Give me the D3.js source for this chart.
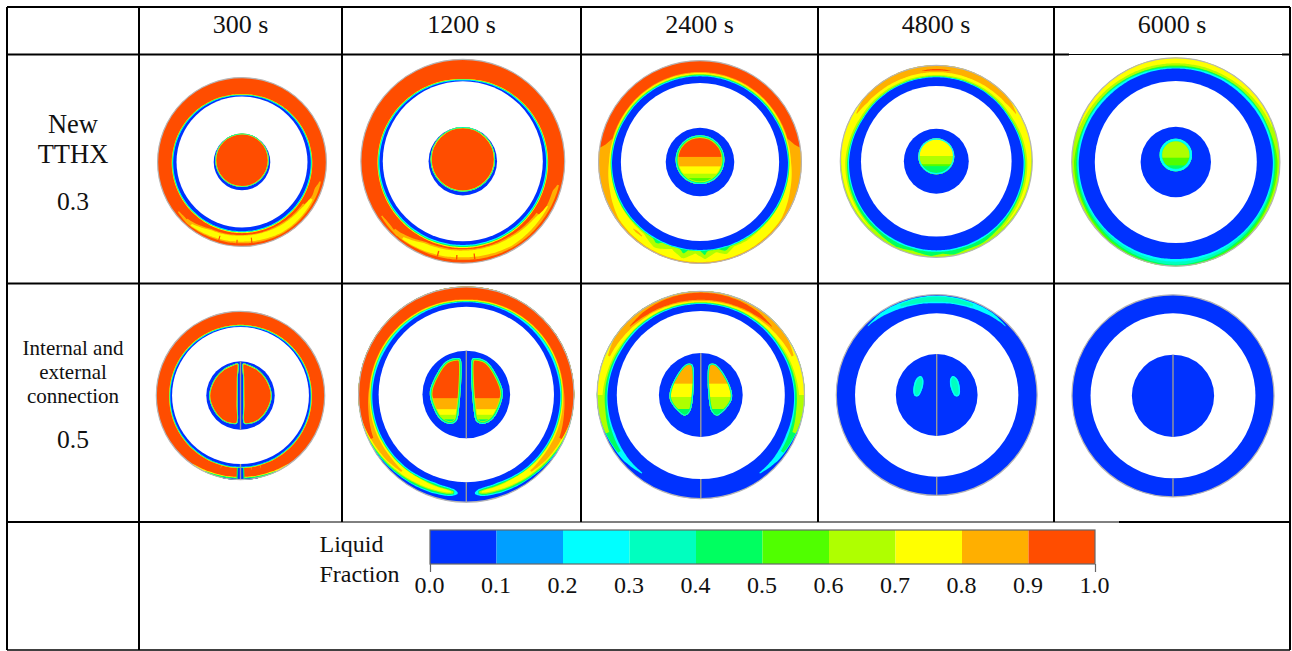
<!DOCTYPE html>
<html>
<head>
<meta charset="utf-8">
<script src="https://cdn.jsdelivr.net/npm/d3@7"></script>
<style>
  html, body { margin: 0; background: #fff; }
  text { font-family: "Liberation Serif", serif; fill: #111; }
</style>
</head>
<body>
<svg id="chart" width="1292" height="651"></svg>
<script>
// Table text
const times = ["300 s", "1200 s", "2400 s", "4800 s", "6000 s"];
const rowOneLabels = ["New", "TTHX"];
const rowOneValue = "0.3";
const rowTwoLabels = ["Internal and", "external", "connection"];
const rowTwoValue = "0.5";
const legendTitle = ["Liquid", "Fraction"];

// Legend
const lfBreaks = [0, 0.1, 0.2, 0.3, 0.4, 0.5, 0.6, 0.7, 0.8, 0.9, 1];
const lfColors = ["#0033ff", "#009fff", "#00ffff", "#00ffbf", "#00ff60", "#50ff00", "#afff00", "#ffff00", "#ffaf00", "#ff4d00"];

// Contours. Angle in degrees from the top, clockwise,
// radius as a fraction of the outer radius. [value, [[angle, r]...]] is a closed
// curve, [value, [[angle, rIn, rOut]...]] is a band. Lists that stop at 180 or
// start at 0 are mirrored. Painted in order.
const ring300 = [
  [0.85, [[104, 0.945, 0.96], [112, 0.9, 0.965], [125, 0.87, 0.965], [150, 0.86, 0.97], [180, 0.862, 0.96], [205, 0.87, 0.965], [222, 0.925, 0.975], [232, 0.945, 0.96]]],
  [0.75, [[118, 0.91, 0.945], [130, 0.885, 0.95], [150, 0.875, 0.955], [165, 0.87, 0.945], [180, 0.87, 0.94], [205, 0.885, 0.95], [219, 0.94, 0.965]]],
  [0.95, [[107, 0.85, 0.91], [116, 0.84, 0.92], [124, 0.86, 0.89]]],
  [0.95, [[224, 0.87, 0.94], [232, 0.86, 0.93], [238, 0.9, 0.91]]],
  [0.95, [[172.6, 0.9, 0.97], [173.4, 0.9, 0.97]]],
  [0.95, [[183.2, 0.92, 0.965], [184, 0.92, 0.965]]],
  [0.95, [[196.2, 0.91, 0.97], [197, 0.91, 0.97]]],
  [0.75, [[0, 0.8], [90, 0.83], [180, 0.84]]],
  [0.45, [[0, 0.795], [90, 0.825], [180, 0.83]]],
  [0.25, [[0, 0.79], [90, 0.82], [180, 0.825]]],
  [0.05, [[0, 0.785], [90, 0.812], [180, 0.818]]]
];
const ring1200 = [
  [0.85, [[104, 0.955, 0.97], [112, 0.9, 0.97], [125, 0.88, 0.97], [150, 0.865, 0.975], [180, 0.862, 0.965], [205, 0.87, 0.965], [222, 0.93, 0.975], [236, 0.95, 0.965]]],
  [0.75, [[118, 0.92, 0.945], [130, 0.895, 0.945], [150, 0.88, 0.955], [165, 0.875, 0.945], [180, 0.875, 0.94], [205, 0.885, 0.955], [218, 0.94, 0.965]]],
  [0.95, [[108, 0.87, 0.925], [118, 0.86, 0.93], [125, 0.87, 0.91]]],
  [0.95, [[225, 0.88, 0.95], [232, 0.88, 0.94], [237, 0.92, 0.93]]],
  [0.95, [[172.6, 0.91, 0.965], [173.4, 0.91, 0.965]]],
  [0.95, [[183.2, 0.92, 0.965], [184, 0.92, 0.965]]],
  [0.95, [[194.6, 0.91, 0.965], [195.4, 0.91, 0.965]]],
  [0.75, [[0, 0.805], [90, 0.835], [180, 0.85]]],
  [0.45, [[0, 0.8], [90, 0.83], [180, 0.84]]],
  [0.25, [[0, 0.796], [90, 0.825], [180, 0.83]]],
  [0.05, [[0, 0.79], [90, 0.815], [180, 0.82]]]
];
const ring2400 = [
  [0.85, [[0, 0.885], [55, 0.885], [75, 0.89], [80, 0.95], [84, 1.05], [180, 1.05]]],
  [0.75, [[0, 0.875], [70, 0.88], [90, 0.895], [108, 0.93], [125, 0.975], [150, 0.985], [180, 0.985]]],
  [0.85, [[218, 0.92, 0.93], [222, 0.915, 0.935], [225, 0.925, 0.93]]],
  [0.65, [[0, 0.865], [60, 0.87], [90, 0.88], [120, 0.885], [140, 0.89], [150, 0.9], [158, 0.895], [164, 0.945], [170, 0.9], [177, 0.955], [183, 0.9], [190, 0.965], [198, 0.9], [208, 0.955], [218, 0.895], [230, 0.89], [270, 0.88], [300, 0.87]]],
  [0.45, [[0, 0.858], [60, 0.862], [90, 0.878], [120, 0.885], [150, 0.88], [160, 0.878], [164, 0.91], [168, 0.878], [175, 0.875], [177, 0.915], [180, 0.875], [188, 0.875], [190, 0.92], [193, 0.875], [205, 0.875], [208, 0.91], [212, 0.878], [240, 0.885], [270, 0.878], [300, 0.862]]],
  [0.25, [[0, 0.85], [60, 0.855], [90, 0.872], [120, 0.875], [150, 0.875], [180, 0.873]]],
  [0.05, [[0, 0.842], [60, 0.847], [90, 0.865], [120, 0.868], [150, 0.865], [180, 0.865]]]
];
const ring4800 = [
  [0.75, [[0, 0.895, 1.02], [60, 0.91, 1.02], [90, 0.945, 0.985], [120, 0.96, 0.98], [135, 0.97, 0.975]]],
  [0.85, [[0, 0.925, 1.02], [30, 0.93, 1.02], [50, 0.94, 0.995], [59, 0.96, 0.97]]],
  [0.95, [[0, 0.942, 0.958], [6, 0.944, 0.956], [9, 0.95, 0.952]]],
  [0.45, [[0, 0.882], [60, 0.89], [90, 0.925], [125, 0.94], [140, 0.955], [150, 0.975], [160, 0.965], [170, 0.985], [176, 0.96], [183, 0.985], [195, 0.96], [205, 0.98], [220, 0.955], [235, 0.95], [270, 0.925], [300, 0.89]]],
  [0.25, [[0, 0.878], [60, 0.885], [90, 0.917], [125, 0.925], [150, 0.935], [180, 0.94]]],
  [0.05, [[0, 0.872], [60, 0.878], [90, 0.906], [125, 0.915], [150, 0.92], [180, 0.925]]]
];
const ring6000 = [
  [0.75, [[0, 0.945, 1.02], [30, 0.95, 1.0], [55, 0.965, 0.995], [70, 0.98, 0.985]]],
  [0.55, [[0, 0.925], [45, 0.925], [70, 0.945], [90, 0.975], [115, 0.975], [130, 0.985], [180, 1.03]]],
  [0.45, [[0, 0.915], [90, 0.955], [130, 0.97], [150, 0.98], [180, 0.995]]],
  [0.35, [[0, 0.905], [90, 0.945], [130, 0.955], [180, 0.985]]],
  [0.25, [[0, 0.9], [90, 0.94], [130, 0.94], [150, 0.945], [180, 0.955]]],
  [0.05, [[0, 0.895], [45, 0.9], [90, 0.93], [130, 0.93], [180, 0.93]]]
];
const ringB300 = [
  [0.75, [[145, 0.985, 1.02], [160, 0.97, 1.02], [175, 0.965, 1.02], [185, 0.965, 1.02], [200, 0.97, 1.02], [215, 0.985, 1.02]]],
  [0.45, [[155, 0.985, 1.02], [165, 0.975, 1.02], [175, 0.972, 1.02], [185, 0.972, 1.02], [195, 0.975, 1.02], [205, 0.985, 1.02]]],
  [0.05, [[168, 0.99, 1.02], [175, 0.985, 1.02], [185, 0.985, 1.02], [192, 0.99, 1.02]]],
  [0.85, [[164, 0.86, 0.88], [164.4, 0.86, 0.9]]],
  [0.85, [[171, 0.86, 0.88], [171.4, 0.86, 0.895]]],
  [0.85, [[195, 0.86, 0.88], [195.4, 0.86, 0.9]]],
  [0.45, [[177.2, 0.8, 1.02], [182.8, 0.8, 1.02]]],
  [0.05, [[178, 0.8, 1.02], [182, 0.8, 1.02]]],
  [0.75, [[0, 0.836], [90, 0.845], [180, 0.86]]],
  [0.45, [[0, 0.83], [90, 0.84], [180, 0.855]]],
  [0.25, [[0, 0.825], [90, 0.836], [180, 0.85]]],
  [0.05, [[0, 0.82], [90, 0.83], [180, 0.845]]]
];
const ringB1200 = [
  [0.25, [[0, 0.855, 1.02], [60, 0.855, 1.02], [90, 0.87, 1.02], [115, 0.875, 1.0], [140, 0.875, 0.975], [160, 0.865, 0.965], [170, 0.875, 0.955], [173, 0.885, 0.945], [175, 0.91, 0.925]]],
  [0.45, [[0, 0.86, 1.02], [90, 0.88, 1.02], [115, 0.885, 0.995], [140, 0.885, 0.97], [160, 0.875, 0.955], [170, 0.885, 0.945], [173, 0.9, 0.93]]],
  [0.65, [[0, 0.865, 1.02], [90, 0.885, 1.02], [115, 0.89, 0.99], [140, 0.89, 0.96], [155, 0.885, 0.945], [170, 0.895, 0.935], [172.5, 0.905, 0.925]]],
  [0.75, [[0, 0.87, 1.02], [90, 0.89, 1.01], [115, 0.895, 0.985], [135, 0.895, 0.955], [150, 0.89, 0.94], [168, 0.9, 0.925], [171, 0.91, 0.92]]],
  [0.85, [[0, 0.875, 1.02], [90, 0.895, 1.005], [110, 0.905, 0.98], [130, 0.91, 0.955], [140, 0.92, 0.935]]],
  [0.95, [[0, 0.88, 1.02], [85, 0.9, 1.02], [100, 0.92, 1.0], [115, 0.95, 0.975]]]
];
const ringB2400 = [
  [0.25, [[0, 0.875, 1.02], [60, 0.875, 1.02], [90, 0.897, 1.02], [115, 0.905, 0.985], [130, 0.925, 0.975], [143, 0.935, 0.945]]],
  [0.45, [[0, 0.882, 1.02], [60, 0.887, 1.02], [90, 0.905, 1.02], [110, 0.92, 0.985], [125, 0.94, 0.97]]],
  [0.65, [[0, 0.888, 1.02], [60, 0.895, 1.02], [85, 0.92, 1.02], [100, 0.93, 0.995], [112, 0.95, 0.985]]],
  [0.75, [[0, 0.894, 1.02], [50, 0.9, 1.02], [75, 0.925, 1.02], [90, 0.945, 0.995]]],
  [0.85, [[0, 0.902, 1.02], [40, 0.92, 1.02], [55, 0.935, 1.0], [67, 0.95, 0.97]]],
  [0.95, [[0, 0.915, 0.985], [20, 0.92, 0.98], [35, 0.93, 0.97], [46, 0.945, 0.95]]]
];
const ringB4800 = [
  [0.25, [[0, 0.91, 0.985], [20, 0.925, 0.985], [35, 0.95, 0.985], [45, 0.965, 0.97]]],
  [0.35, [[0, 0.925, 0.975], [12, 0.93, 0.975], [22, 0.945, 0.97]]]
];
const ringB6000 = [];

// Pockets of still solid material inside the hub. A shape is a circle [dy, r] or
// a mirrored outline of [x, y] points, both as fractions of the outer radius.
// levels: [value, y where it starts], rims: [value, thickness from the edge].
const hub300 = { circle: [-0.02, 0.316], levels: [[0.95, -1]], rims: [[0.75, 0.012], [0.45, 0.008], [0.25, 0.004]] };
const hub1200 = { circle: [-0.018, 0.316], levels: [[0.95, -1]], rims: [[0.75, 0.012], [0.45, 0.008], [0.25, 0.004]] };
const hub2400 = { circle: [-0.023, 0.24], levels: [[0.95, -1], [0.85, -0.05], [0.75, 0.043], [0.65, 0.115], [0.55, 0.158]], rims: [[0.65, 0.027], [0.45, 0.018], [0.25, 0.009]] };
const hub4800 = { circle: [-0.052, 0.187], levels: [[0.75, -1], [0.65, -0.055], [0.55, 0.03], [0.45, 0.05]], rims: [[0.25, 0.014]] };
const hub6000 = { circle: [-0.067, 0.155], levels: [[0.65, -1], [0.55, -0.041], [0.45, 0.032]], rims: [[0.35, 0.024], [0.25, 0.018]] };
const hubB300 = {
  outline: [[0.03, -0.38], [0.1, -0.36], [0.2, -0.31], [0.31, -0.19], [0.37, 0], [0.32, 0.17], [0.22, 0.29], [0.11, 0.335], [0.042, 0.33], [0.035, 0.1], [0.032, -0.2]],
  levels: [[0.95, -1]], rims: [[0.75, 0.012], [0.45, 0.008], [0.25, 0.004]]
};
const hubB1200 = {
  outline: [[0.065, -0.336], [0.188, -0.306], [0.327, -0.074], [0.336, 0.02], [0.25, 0.22], [0.157, 0.272], [0.096, 0.25], [0.065, 0.11], [0.05, -0.32]],
  levels: [[0.95, -1], [0.85, 0.034], [0.75, 0.136], [0.65, 0.188], [0.45, 0.23]], rims: [[0.65, 0.024], [0.45, 0.016], [0.25, 0.008]]
};
const hubB2400 = {
  outline: [[0.088, -0.298], [0.136, -0.298], [0.216, -0.211], [0.296, -0.035], [0.296, 0.045], [0.216, 0.157], [0.152, 0.198], [0.104, 0.157], [0.072, -0.019], [0.072, -0.269]],
  levels: [[0.85, -1], [0.75, -0.109], [0.65, 0.019], [0.45, 0.135]], rims: [[0.45, 0.014], [0.25, 0.008]]
};
const hubB4800 = {
  outline: [[0.159, -0.189], [0.205, -0.156], [0.232, -0.033], [0.215, 0.01], [0.182, 0.01], [0.142, -0.066], [0.132, -0.149]],
  levels: [[0.35, -1]], rims: [[0.25, 0.014]]
};
const hubB6000 = null;

// Where each disk sits on the page
const columnEdges = [7, 139, 342, 581, 818, 1054, 1290];
const rowEdges = [7, 54.5, 283.5, 522, 650];
const panels = [
  { cx: 242, cy: 162, R: 84.7, hole: 0.773, hub: 0.334, base: 0.95, ring: ring300, pocket: hub300 },
  { cx: 462.8, cy: 161.2, R: 102.2, hole: 0.783, hub: 0.335, base: 0.95, ring: ring1200, pocket: hub1200 },
  { cx: 700, cy: 162, R: 101.7, hole: 0.778, hub: 0.337, base: 0.95, ring: ring2400, pocket: hub2400 },
  { cx: 936.3, cy: 161.3, R: 96.3, hole: 0.782, hub: 0.337, base: 0.65, ring: ring4800, pocket: hub4800 },
  { cx: 1175.8, cy: 162, R: 104.4, hole: 0.776, hub: 0.337, base: 0.65, ring: ring6000, pocket: hub6000 },
  { cx: 240.5, cy: 395.5, R: 84.5, hole: 0.81, hub: 0.405, base: 0.95, ring: ringB300, pocket: hubB300, fin: true },
  { cx: 466.3, cy: 394.5, R: 108, hole: 0.812, hub: 0.406, base: 0.05, ring: ringB1200, pocket: hubB1200, fin: true },
  { cx: 700.8, cy: 395, R: 104, hole: 0.808, hub: 0.403, base: 0.05, ring: ringB2400, pocket: hubB2400, fin: true },
  { cx: 936.7, cy: 395, R: 100.7, hole: 0.811, hub: 0.406, base: 0.05, ring: ringB4800, pocket: hubB4800, fin: true },
  { cx: 1173, cy: 395.8, R: 101.3, hole: 0.814, hub: 0.406, base: 0.05, ring: ringB6000, pocket: hubB6000, fin: true }
];

const svg = d3.select("#chart");
const color = d3.scaleThreshold().domain(lfBreaks.slice(1, -1)).range(lfColors);
const rad = d => d * Math.PI / 180;

const defs = svg.append("defs");
defs.append("filter").attr("id", "soft")
  .attr("x", "-5%").attr("y", "-5%").attr("width", "110%").attr("height", "110%")
  .append("feGaussianBlur").attr("stdDeviation", 0.35);

// Mirror helpers
function mirrorCurve(pts) {
  if (pts[pts.length - 1][0] > 180) return pts;
  const back = pts.slice(1, -1).reverse().map(d => [360 - d[0], d[1]]);
  return pts.concat(back);
}
function mirrorBand(pts) {
  if (pts[0][0] !== 0) return pts;
  const back = pts.slice(1).reverse().map(d => [-d[0], d[1], d[2]]);
  return back.concat(pts);
}

// Splines must follow the circle, so walk the contour in small angle steps
function alongAngle(pts, step) {
  const first = pts[0][0];
  const last = pts[pts.length - 1][0];
  const columns = pts[0].slice(1).map((_, k) =>
    d3.scaleLinear().domain(pts.map(d => d[0])).range(pts.map(d => d[k + 1])));
  const n = Math.max(2, Math.ceil((last - first) / step));
  return d3.range(n + 1).map(i => {
    const a = first + (last - first) * i / n;
    return [a].concat(columns.map(c => c(a)));
  });
}
function closedCurvePoints(pts) {
  const all = mirrorCurve(pts);
  const wrapped = all.concat([[all[0][0] + 360, all[0][1]]]);
  return alongAngle(wrapped, 1.5).slice(0, -1);
}

function drawPanel(p, i) {
  const r = d3.scaleLinear().domain([0, 1]).range([0, p.R]);
  const g = svg.append("g")
    .attr("transform", `translate(${p.cx},${p.cy})`)
    .attr("filter", "url(#soft)");

  const clipId = `disk${i}`;
  defs.append("clipPath").attr("id", clipId).append("circle").attr("r", p.R);

  const curve = d3.lineRadial()
    .angle(d => rad(d[0])).radius(d => r(d[1]))
    .curve(d3.curveCatmullRomClosed);
  const band = d3.areaRadial()
    .angle(d => rad(d[0])).innerRadius(d => r(d[1])).outerRadius(d => r(d[2]))
    .curve(d3.curveCatmullRom);

  const ring = g.append("g").attr("clip-path", `url(#${clipId})`);
  ring.append("circle").attr("r", p.R).attr("fill", color(p.base));
  ring.selectAll("path")
    .data(p.ring)
    .enter().append("path")
    .attr("fill", d => color(d[0]))
    .attr("d", d => d[1][0].length === 2
      ? curve(closedCurvePoints(d[1]))
      : band(alongAngle(mirrorBand(d[1]), 1.5)));

  // Solid rim stays blue right next to the tube walls
  g.append("circle").attr("r", r(p.hole)).attr("fill", "#fff");
  g.append("circle").attr("r", r(p.hub)).attr("fill", color(0.05));

  if (p.pocket) drawPocket(g, p, r, i);

  if (p.fin) {
    const fins = [[-p.hub, p.hub], [p.hole, 1]];
    g.selectAll(".fin")
      .data(fins)
      .enter().append("line")
      .attr("class", "fin")
      .attr("y1", d => r(d[0])).attr("y2", d => r(d[1]))
      .attr("stroke", "#999").attr("stroke-width", 1.4);
  }

  g.append("circle").attr("r", p.R - 0.3)
    .attr("fill", "none").attr("stroke", "#b5b5b5").attr("stroke-width", 1.2);
}

function drawPocket(g, p, r, i) {
  const pk = p.pocket;
  const shapes = [];
  if (pk.circle) {
    const path = d3.path();
    path.arc(0, r(pk.circle[0]), r(pk.circle[1]), 0, 2 * Math.PI);
    shapes.push(path.toString());
  } else {
    const line = d3.line().x(d => r(d[0])).y(d => r(d[1])).curve(d3.curveCatmullRomClosed);
    shapes.push(line(pk.outline));
    shapes.push(line(pk.outline.map(d => [-d[0], d[1]])));
  }
  shapes.forEach((shape, k) => {
    const id = `pocket${i}-${k}`;
    defs.append("clipPath").attr("id", id).append("path").attr("d", shape);
    const inner = g.append("g").attr("clip-path", `url(#${id})`);
    inner.selectAll("rect")
      .data(pk.levels)
      .enter().append("rect")
      .attr("x", -p.R).attr("width", 2 * p.R)
      .attr("y", d => r(d[1])).attr("height", 2 * p.R)
      .attr("fill", d => color(d[0]));
    inner.selectAll("path")
      .data(pk.rims)
      .enter().append("path")
      .attr("d", shape).attr("fill", "none")
      .attr("stroke", d => color(d[0]))
      .attr("stroke-width", d => 2 * r(d[1]));
  });
}

panels.forEach(drawPanel);

// Table rules, some stretches are thin where the images overlap them
const [x0, x1, , , , x5, x6] = columnEdges;
const [y0, y1, y2, y3, y4] = rowEdges;
const rules = [
  [x0, y0, x6, y0, 2], [x0, y1, 1069, y1, 2], [1069, y1, 1282, y1, 1], [1282, y1, x6, y1, 2],
  [x0, y2, x6, y2, 2], [x0, y3, 310, y3, 2], [310, y3, 1119, y3, 1], [1119, y3, x6, y3, 2],
  [x0, y4, x6, y4, 1.5], [x0, y0, x0, y4, 2], [x1, y0, x1, y4, 2], [x6, y0, x6, y4, 2]
];
columnEdges.slice(2, 6).forEach(x => rules.push([x, y0, x, y3, 2]));
svg.selectAll(".rule")
  .data(rules)
  .enter().append("line")
  .attr("class", "rule")
  .attr("x1", d => d[0]).attr("y1", d => d[1])
  .attr("x2", d => d[2]).attr("y2", d => d[3])
  .attr("stroke", "#000").attr("stroke-width", d => d[4]);

// Headers and row labels
svg.selectAll(".time")
  .data(times)
  .enter().append("text")
  .attr("class", "time")
  .attr("x", (d, i) => (columnEdges[i + 1] + columnEdges[i + 2]) / 2)
  .attr("y", 33).attr("text-anchor", "middle")
  .attr("font-size", 26).text(d => d);

function label(txt, x, y, size, anchor) {
  svg.append("text").attr("x", x).attr("y", y)
    .attr("text-anchor", anchor || "middle").attr("font-size", size).text(txt);
}
rowOneLabels.forEach((d, i) => label(d, 73, 133 + i * 30, 26.5));
label(rowOneValue, 73, 210, 25.6);
rowTwoLabels.forEach((d, i) => label(d, 73, 355 + i * 24, 21));
label(rowTwoValue, 73, 448, 25.6);
legendTitle.forEach((d, i) => label(d, 319.5, 551.7 + i * 30, 24, "start"));

// Legend bar
const lfX = d3.scaleLinear().domain([0, 1]).range([430, 1095]);
const legend = svg.append("g");
legend.selectAll("rect")
  .data(lfColors)
  .enter().append("rect")
  .attr("x", (d, i) => lfX(lfBreaks[i]))
  .attr("width", (d, i) => lfX(lfBreaks[i + 1]) - lfX(lfBreaks[i]))
  .attr("y", 530).attr("height", 34)
  .attr("fill", d => d);
legend.append("rect")
  .attr("x", lfX(0)).attr("y", 530)
  .attr("width", lfX(1) - lfX(0)).attr("height", 34)
  .attr("fill", "none").attr("stroke", "#666").attr("stroke-width", 1.2);

const labelAxis = d3.axisBottom(lfX).tickValues(lfBreaks).tickSize(0).tickPadding(0).tickFormat(d3.format(".1f"));
const axisG = svg.append("g").attr("transform", "translate(-1,564)").call(labelAxis);
axisG.select(".domain").remove();
axisG.selectAll("text")
  .attr("y", 29).attr("dy", 0)
  .attr("font-size", 24)
  .style("font-family", '"Liberation Serif", serif').style("fill", "#111");

const endTicks = d3.axisBottom(lfX).tickValues([0, 1]).tickSize(8).tickFormat("");
const endG = svg.append("g").attr("transform", "translate(0,564)").call(endTicks);
endG.select(".domain").remove();
endG.selectAll("line").attr("stroke", "#666").attr("stroke-width", 1.2);
</script>
</body>
</html>
